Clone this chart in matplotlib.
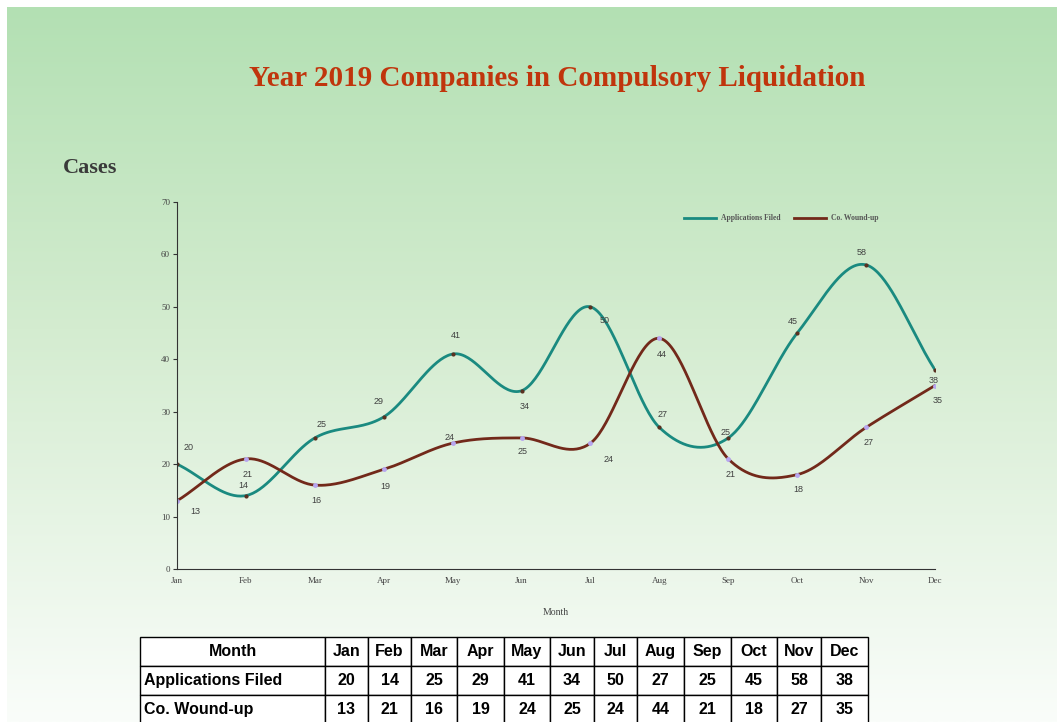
import numpy as np
import matplotlib
matplotlib.use("Agg")
import matplotlib.pyplot as plt

months = ["Jan", "Feb", "Mar", "Apr", "May", "Jun", "Jul", "Aug", "Sep", "Oct", "Nov", "Dec"]
applications = [20, 14, 25, 29, 41, 34, 50, 27, 25, 45, 58, 38]
wound_up = [13, 21, 16, 19, 24, 25, 24, 44, 21, 18, 27, 35]

# label offsets in points (x, y)
app_off = [(8, 12), (-2, 7), (5, 10), (-4, 11), (2, 13), (2, -11), (10, -10), (2, 9), (-2, 4), (-3, 8), (-3, 9), (-1, -8)]
wnd_off = [(13, -8), (1, -11), (1, -11), (1, -12), (-2, 4), (1, -10), (13, -12), (2, -12), (2, -11), (1, -11), (2, -11), (2, -11)]

teal = "#1a8a80"
brown = "#72291a"


def smooth(y, n=40):
    # catmull-rom through the points, only for drawing the curve
    y = np.asarray(y, float)
    p = np.concatenate([[2 * y[0] - y[1]], y, [2 * y[-1] - y[-2]]])
    xs, ys = [], []
    for i in range(len(y) - 1):
        t = np.linspace(0, 1, n, endpoint=False)
        p0, p1, p2, p3 = p[i], p[i + 1], p[i + 2], p[i + 3]
        yy = 0.5 * ((2 * p1) + (-p0 + p2) * t + (2 * p0 - 5 * p1 + 4 * p2 - p3) * t ** 2
                    + (-p0 + 3 * p1 - 3 * p2 + p3) * t ** 3)
        xs.append(i + t)
        ys.append(yy)
    xs.append([len(y) - 1])
    ys.append([y[-1]])
    return np.concatenate(xs), np.concatenate(ys)


W, H = 1057, 722
fig = plt.figure(figsize=(W / 100, H / 100), dpi=100)
fig.patch.set_facecolor("white")

# gradient background
bg = fig.add_axes([7 / W, 0, 1 - 7 / W, 1 - 7 / H])
bg.set_axis_off()
top = np.array([179, 224, 179]) / 255
mid = np.array([212, 236, 208]) / 255
bot = np.array([250, 253, 250]) / 255
yy = np.linspace(0, 1, 300)[:, None]
grad = np.where(yy < 0.45, top + (mid - top) * (yy / 0.45), mid + (bot - mid) * ((yy - 0.45) / 0.55))
bg.imshow(grad.reshape(300, 1, 3), aspect="auto", extent=[0, 1, 0, 1])

fig.text(557 / W, 1 - 78 / H, "Year 2019 Companies in Compulsory Liquidation", ha="center", va="center",
         fontsize=21, fontweight="bold", family="Liberation Serif", color="#c0350c")
fig.text(63 / W, 1 - 168 / H, "Cases", ha="left", va="center", fontsize=16, fontweight="bold",
         family="Liberation Serif", color="#3a3a3a")

ax = fig.add_axes([177 / W, 1 - 569 / H, (935 - 177) / W, (569 - 202) / H])
ax.patch.set_alpha(0)
x = np.arange(len(months))

sx, sy = smooth(applications)
ax.plot(sx, sy, color=teal, lw=2, label="Applications Filed")
ax.plot(x, applications, ls="none", marker="o", ms=2, color="#5a3020")
sx, sy = smooth(wound_up)
ax.plot(sx, sy, color=brown, lw=2, label="Co. Wound-up")
ax.plot(x, wound_up, ls="none", marker="o", ms=2.5, color="#b7a6f0")

for i in range(len(months)):
    ax.annotate(str(applications[i]), (x[i], applications[i]), xytext=app_off[i], textcoords="offset points",
                ha="center", va="center", fontsize=6.5, color="#404040", family="Liberation Sans")
    ax.annotate(str(wound_up[i]), (x[i], wound_up[i]), xytext=wnd_off[i], textcoords="offset points",
                ha="center", va="center", fontsize=6.5, color="#404040", family="Liberation Sans")

ax.set_xlim(0, 11)
ax.set_ylim(0, 70)
ax.set_xticks(x)
ax.set_xticklabels(months)
ax.set_yticks(range(0, 71, 10))
ax.spines["top"].set_visible(False)
ax.spines["right"].set_visible(False)
ax.spines["left"].set_color("#333333")
ax.spines["bottom"].set_color("#333333")
ax.tick_params(axis="x", length=0, pad=6, labelsize=6.5, labelcolor="#444444")
ax.tick_params(axis="y", length=3, pad=2, labelsize=6.5, labelcolor="#444444", color="#333333")
for lab in ax.get_xticklabels() + ax.get_yticklabels():
    lab.set_family("Liberation Serif")
ax.set_xlabel("Month", fontsize=7, family="Liberation Serif", color="#444444", labelpad=16)

leg = ax.legend(loc="upper left", bbox_to_anchor=(0.66, 0.985), ncol=2, frameon=False,
                prop={"family": "Liberation Serif", "size": 5.5, "weight": "bold"},
                handlelength=4.2, handletextpad=0.6, columnspacing=1.8)
for t in leg.get_texts():
    t.set_color("#555555")

# data table under the chart
cell_text = [["Month"] + months,
             ["Applications Filed"] + [str(v) for v in applications],
             ["Co. Wound-up"] + [str(v) for v in wound_up]]
tab = fig.add_axes([140 / W, 1 - 724 / H, (868 - 140) / W, 87 / H])
tab.set_axis_off()
col_edges = [140, 325, 368, 411, 457, 504, 550, 594, 637, 684, 731, 777, 821, 868]
widths = [(col_edges[i + 1] - col_edges[i]) / (868 - 140) for i in range(len(col_edges) - 1)]
table = tab.table(cellText=cell_text, colWidths=widths, bbox=[0, 0, 1, 1], cellLoc="center")
table.auto_set_font_size(False)
for (r, c), cell in table.get_celld().items():
    cell.set_facecolor("white")
    cell.set_edgecolor("black")
    cell.set_linewidth(1)
    cell.get_text().set_fontsize(11.5)
    cell.get_text().set_fontweight("bold")
    cell.get_text().set_family("Liberation Sans")
    if c == 0 and r > 0:
        cell.get_text().set_ha("left")
        cell._loc = "left"
        cell.PAD = 0.02

fig.savefig("out.png", dpi=100)
